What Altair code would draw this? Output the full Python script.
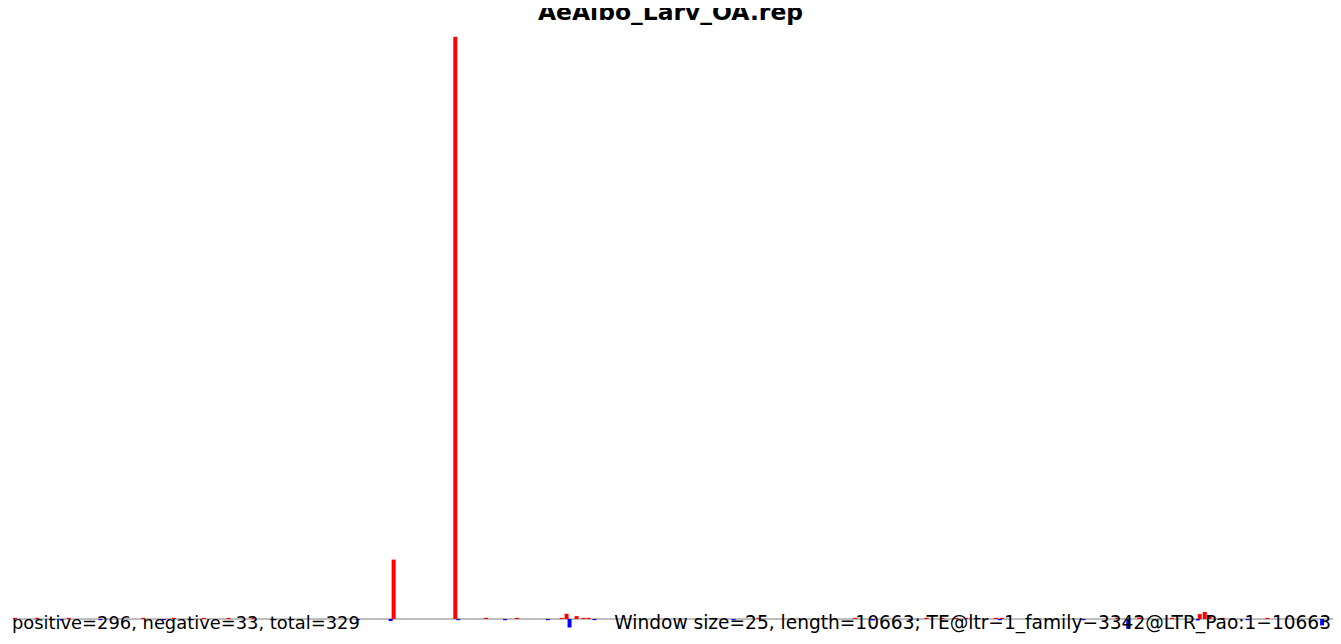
import altair as alt
import pandas as pd

# ---- data ----
TITLE = "AeAlbo_Larv_OA.rep"
LENGTH = 10663
LEFT_LABEL = "positive=296, negative=33, total=329"
RIGHT_LABEL = "Window size=25, length=10663; TE@ltr\u22121_family\u22123342@LTR_Pao:1\u221210663"

# window positions (bp) and signal for sense (positive) reads
pos_positions = [16, 193, 450, 1052, 1301, 1542, 1742, 1943, 3075, 3573, 3822, 4071,
                 4432, 4472, 4553, 4609, 4649, 6022, 6801, 7379, 7508, 7620, 7700,
                 7941, 7990, 8921, 9097, 9362, 9587, 9627, 9667, 9772, 10133]
pos_values = [0.2, 0.2, 0.2, 0.2, 0.2, 0.2, 0.2, 0.2, 10.2, 100, 0.2, 0.2,
              0.2, 0.9, 0.5, 0.2, 0.2, 0.2, 0.2, 0.2, 0.2, 0.2, 0.2,
              0.2, 0.2, 0.25, 0.25, 0.2, 0.85, 1.2, 0.5, 0.2, 0.2]

# window positions (bp) and signal for antisense (negative) reads
neg_positions = [393, 707, 1220, 2786, 3051, 3597, 3975, 4320, 4496, 4697, 5821,
                 6946, 7251, 7973, 8648, 9009, 9571, 9973, 10575]
neg_values = [-0.25, -0.2, -0.2, -0.2, -0.35, -0.2, -0.2, -0.2, -1.45, -0.2, -0.2,
              -0.25, -0.2, -0.2, -0.2, -1.7, -0.25, -0.2, -1.1]

df = pd.DataFrame({
    "pos": pos_positions + neg_positions,
    "value": pos_values + neg_values,
    "zero": 0.0,
    "strand": ["positive"] * len(pos_positions) + ["negative"] * len(neg_positions),
})
base_df = pd.DataFrame({"start": [0], "end": [LENGTH], "zero": [0.0]})

W, H = 1333, 628
xscale = alt.Scale(domain=[0, LENGTH], range=[5, 1333], nice=False, zero=False)
yscale = alt.Scale(domain=[0, 100], range=[612.8, 27], nice=False)

baseline = alt.Chart(base_df).mark_rule(color="#A9A9A9", strokeWidth=1.5).encode(
    x=alt.X("start:Q", scale=xscale, axis=None),
    x2="end:Q",
    y=alt.Y("zero:Q", scale=yscale, axis=None),
)

bars = alt.Chart(df).mark_rule(strokeWidth=4, strokeCap="butt").encode(
    x=alt.X("pos:Q", scale=xscale, axis=None),
    y=alt.Y("value:Q", scale=yscale, axis=None),
    y2="zero:Q",
    color=alt.Color("strand:N", scale=alt.Scale(domain=["positive", "negative"],
                                                range=["#FF0000", "#0000FF"]), legend=None),
)

font = "DejaVu Sans"
left_text = alt.Chart(pd.DataFrame({"t": [LEFT_LABEL]})).mark_text(
    align="left", baseline="alphabetic", font=font, fontSize=18, color="black"
).encode(text="t:N", x=alt.value(4), y=alt.value(623))

right_text = alt.Chart(pd.DataFrame({"t": [RIGHT_LABEL]})).mark_text(
    align="right", baseline="alphabetic", font=font, fontSize=18.7, color="black"
).encode(text="t:N", x=alt.value(1331), y=alt.value(623))

title_text = alt.Chart(pd.DataFrame({"t": [TITLE]})).mark_text(
    align="center", baseline="alphabetic", font=font, fontSize=23.6,
    fontWeight="bold", color="black"
).encode(text="t:N", x=alt.value(666.5), y=alt.value(10))

chart = alt.layer(baseline, bars, left_text, right_text, title_text).properties(
    width=W, height=H, autosize=alt.AutoSizeParams(type="none"), padding=0
).configure_view(stroke=None)

chart.save("out.html", embed_options={"renderer": "svg", "actions": False})
